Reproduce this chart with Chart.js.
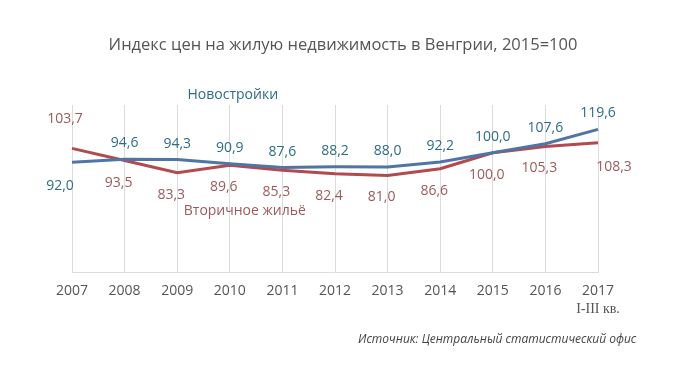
<!DOCTYPE html>
<html>
<head>
<meta charset="utf-8">
<script src="https://cdn.jsdelivr.net/npm/chart.js@4"></script>
<style>
  html, body { margin: 0; padding: 0; background: #ffffff; }
  #chart-container { width: 693px; height: 392px; }
</style>
</head>
<body>
<div id="chart-container"><canvas id="chart" width="693" height="392"></canvas></div>
<script>
// Years on the x axis
const years = ['2007', '2008', '2009', '2010', '2011', '2012', '2013', '2014', '2015', '2016', '2017'];

// Price index, 2015 = 100
const newBuildValues = [92.0, 94.6, 94.3, 90.9, 87.6, 88.2, 88.0, 92.2, 100.0, 107.6, 119.6];
const resaleValues = [103.7, 93.5, 83.3, 89.6, 85.3, 82.4, 81.0, 86.6, 100.0, 105.3, 108.3];

const titleText = 'Индекс цен на жилую недвижимость в Венгрии, 2015=100';
const newBuildName = 'Новостройки';
const resaleName = 'Вторичное жильё';
const lastTickNote = 'I-III кв.';
const sourceText = 'Источник: Центральный статистический офис';

const FONT = "'Open Sans', 'Noto Sans', sans-serif";
const blueLine = '#4f74a6';
const blueText = '#2e6c86';
const redLine = '#b34a4f';
const redText = '#9c5a5c';

// Format a value with a comma as decimal separator
function fmt(v) {
  return v.toFixed(1).replace('.', ',');
}

// Draws value labels, series names, title, footnote and source
const annotations = {
  id: 'annotations',
  afterDatasetsDraw(chart) {
    const ctx = chart.ctx;
    const area = chart.chartArea;
    const x = chart.scales.x;
    ctx.save();
    ctx.textAlign = 'center';
    ctx.textBaseline = 'middle';

    // value labels
    ctx.font = `14px ${FONT}`;
    chart.getDatasetMeta(0).data.forEach((pt, i) => {
      ctx.fillStyle = blueText;
      if (i === 0) {
        ctx.fillText(fmt(newBuildValues[i]), pt.x - 12, pt.y + 24);
      } else {
        ctx.fillText(fmt(newBuildValues[i]), pt.x, pt.y - 16);
      }
    });
    chart.getDatasetMeta(1).data.forEach((pt, i) => {
      ctx.fillStyle = redText;
      if (i === 0) {
        ctx.fillText(fmt(resaleValues[i]), pt.x - 7, pt.y - 29);
      } else if (i === resaleValues.length - 1) {
        ctx.fillText(fmt(resaleValues[i]), pt.x + 16, pt.y + 24);
      } else {
        ctx.fillText(fmt(resaleValues[i]), pt.x - 6, pt.y + 22);
      }
    });

    // series names
    ctx.font = `14px ${FONT}`;
    ctx.fillStyle = blueText;
    ctx.fillText(newBuildName, x.getPixelForValue(3) + 3, area.top - 10);
    ctx.fillStyle = redText;
    ctx.fillText(resaleName, x.getPixelForValue(3) + 15, 211);

    // title
    ctx.font = `16.5px ${FONT}`;
    ctx.fillStyle = '#555555';
    ctx.fillText(titleText, 343, 45);

    // note under last tick
    ctx.font = "14px 'Liberation Serif', 'DejaVu Serif', serif";
    ctx.fillStyle = '#555555';
    ctx.fillText(lastTickNote, x.getPixelForValue(10), 309);

    // source
    ctx.font = `italic 12px ${FONT}`;
    ctx.fillStyle = '#444444';
    ctx.textAlign = 'left';
    ctx.fillText(sourceText, 358, 340);
    ctx.restore();
  }
};

new Chart(document.getElementById('chart'), {
  type: 'line',
  data: {
    labels: years,
    datasets: [
      {
        label: newBuildName,
        data: newBuildValues,
        borderColor: blueLine,
        borderWidth: 3,
        pointRadius: 0,
        tension: 0
      },
      {
        label: resaleName,
        data: resaleValues,
        borderColor: redLine,
        borderWidth: 3,
        pointRadius: 0,
        tension: 0
      }
    ]
  },
  options: {
    responsive: false,
    animation: false,
    layout: {
      padding: { top: 105, bottom: 83, left: 72, right: 95 }
    },
    plugins: {
      legend: { display: false },
      tooltip: { enabled: false }
    },
    scales: {
      x: {
        offset: false,
        grid: {
          color: '#dcdcdc',
          drawTicks: false
        },
        border: { color: '#dcdcdc', width: 1 },
        ticks: {
          color: '#555555',
          font: { family: FONT, size: 14 },
          padding: 10,
          maxRotation: 0,
          autoSkip: false
        }
      },
      y: {
        display: false,
        min: 0,
        max: 140
      }
    }
  },
  plugins: [annotations]
});
</script>
</body>
</html>
